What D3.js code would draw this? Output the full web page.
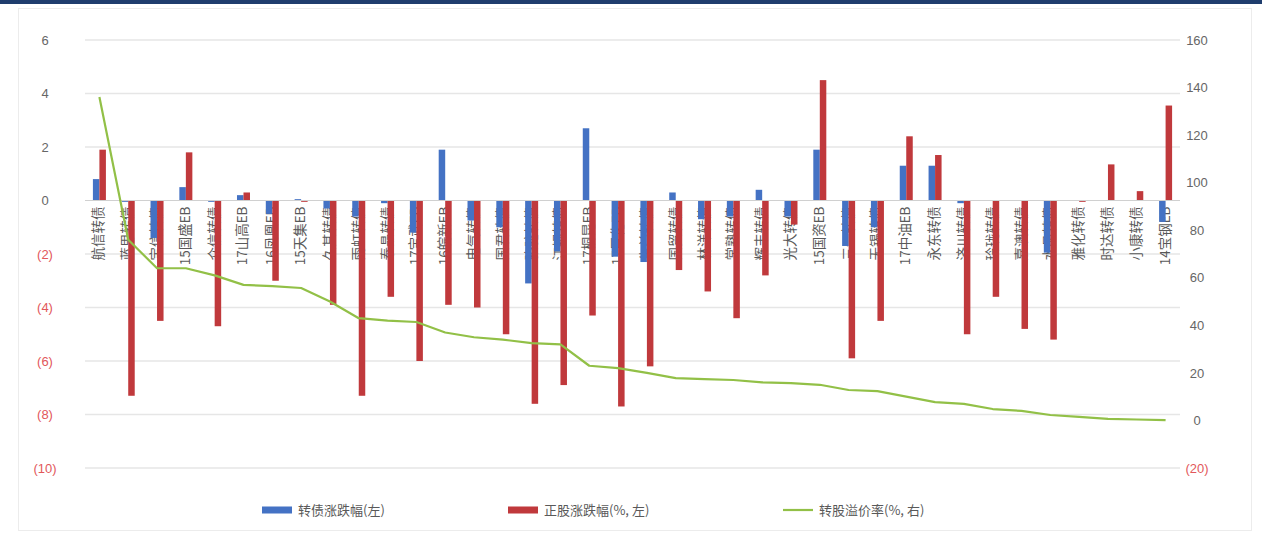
<!DOCTYPE html>
<html>
<head>
<meta charset="utf-8">
<script src="https://cdn.jsdelivr.net/npm/d3@7/dist/d3.min.js"></script>
<style>
  html, body { margin: 0; padding: 0; background: #ffffff; }
  svg { display: block; font-family: "Noto Sans CJK SC", "Noto Sans", sans-serif; }
</style>
</head>
<body>
<svg id="chart" width="1262" height="534"></svg>
<script>
// Bond names along the x axis
const categories = [
  "航信转债", "蓝思转债", "宝信转债", "15国盛EB", "众信转债", "17山高EB", "16凤凰EB", "15天集EB",
  "久其转债", "雨虹转债", "泰晶转债", "17宝武EB", "16皖新EB", "电气转债", "国君转债", "骆驼转债",
  "江银转债", "17桐昆EB", "17巨化EB", "生益转债", "国贸转债", "林洋转债", "常熟转债", "辉丰转债",
  "光大转债", "15国资EB", "三一转债", "无锡转债", "17中油EB", "永东转债", "济川转债", "玲珑转债",
  "嘉澳转债", "水晶转债", "雅化转债", "时达转债", "小康转债", "14宝钢EB"
];

// Convertible bond change (left axis)
const bondChange = [
  0.8, -0.05, -1.4, 0.5, -0.05, 0.2, -0.5, 0.05,
  -0.3, -0.6, -0.1, -1.2, 1.9, -0.75, -1.0, -3.1,
  -1.9, 2.7, -2.1, -2.3, 0.3, -0.7, -0.6, 0.4,
  -0.6, 1.9, -1.7, -1.0, 1.3, 1.3, -0.1, 0.0,
  0.0, -1.95, 0.0, 0.0, 0.0, -0.8
];

// Underlying stock change, % (left axis)
const stockChange = [
  1.9, -7.3, -4.5, 1.8, -4.7, 0.3, -3.0, -0.05,
  -3.9, -7.3, -3.6, -6.0, -3.9, -4.0, -5.0, -7.6,
  -6.9, -4.3, -7.7, -6.2, -2.6, -3.4, -4.4, -2.8,
  -0.9, 4.5, -5.9, -4.5, 2.4, 1.7, -5.0, -3.6,
  -4.8, -5.2, -0.05, 1.35, 0.35, 3.55
];

// Conversion premium, % (right axis)
const premium = [
  136, 76, 64, 64, 61, 57, 56.5, 55.7,
  50, 43, 42, 41.4, 37, 35, 34, 32.5,
  32, 23, 22, 20, 17.8, 17.4, 17, 16,
  15.7, 15, 12.8, 12.3, 10, 7.7, 7, 4.8,
  4, 2.3, 1.5, 0.7, 0.4, 0.1
];

const leftTicks = [6, 4, 2, 0, -2, -4, -6, -8, -10];
const rightTicks = [160, 140, 120, 100, 80, 60, 40, 20, 0, -20];

const seriesNames = ["转债涨跌幅(左)", "正股涨跌幅(%, 左)", "转股溢价率(%, 右)"];
const colors = { bond: "#4472c4", stock: "#c0393c", premium: "#92c047" };

const svg = d3.select("#chart");
const W = 1262, H = 534;
const plot = { left: 85, right: 1180, top: 40, bottom: 468 };

// outer frame and header rule
svg.append("rect").attr("x", 18.5).attr("y", 8.5).attr("width", 1233).attr("height", 522)
  .attr("fill", "none").attr("stroke", "#ececec").attr("stroke-width", 1);
svg.append("rect").attr("x", 0).attr("y", 0).attr("width", W).attr("height", 4).attr("fill", "#1f3d6d");

const x = d3.scaleBand().domain(categories).range([plot.left, plot.right]).padding(0);
const xSub = d3.scaleBand().domain(["bond", "stock"]).range([-6.5, 6.5]).padding(0);
const yL = d3.scaleLinear().domain([-10, 6]).range([plot.bottom, plot.top]);
const yR = d3.scaleLinear().domain([-20, 160]).range([plot.bottom, plot.top]);

const fmt = v => v < 0 ? "(" + Math.abs(v) + ")" : String(v);

// horizontal gridlines
svg.append("g").selectAll("line").data(leftTicks.filter(t => t !== 0)).join("line")
  .attr("x1", plot.left).attr("x2", plot.right)
  .attr("y1", d => yL(d)).attr("y2", d => yL(d))
  .attr("stroke", "#e6e6e6").attr("stroke-width", 1.5);

// left axis
const axL = svg.append("g").attr("transform", `translate(${plot.left - 28},0)`)
  .call(d3.axisLeft(yL).tickValues(leftTicks).tickSize(0).tickPadding(0).tickFormat(fmt));
axL.select(".domain").remove();
axL.selectAll("text")
  .attr("text-anchor", "middle").attr("dx", -12)
  .attr("font-size", 13)
  .attr("font-family", "Liberation Sans, Arial, sans-serif")
  .attr("fill", d => d < 0 ? "#e2575b" : "#666666");

// right axis
const axR = svg.append("g").attr("transform", `translate(${plot.right + 5},0)`)
  .call(d3.axisRight(yR).tickValues(rightTicks).tickSize(0).tickPadding(0).tickFormat(fmt));
axR.select(".domain").remove();
axR.selectAll("text")
  .attr("text-anchor", "middle").attr("dx", 12)
  .attr("font-size", 13)
  .attr("font-family", "Liberation Sans, Arial, sans-serif")
  .attr("fill", d => d < 0 ? "#e2575b" : "#666666");

// category labels, vertical, hung just below the zero line (drawn beneath the bars)
svg.append("g").selectAll("text").data(categories).join("text")
  .attr("transform", d => `translate(${x(d) + x.bandwidth() / 2 + 4},${yL(0) + 6}) rotate(-90)`)
  .attr("text-anchor", "end")
  .attr("font-size", 13.5)
  .attr("fill", "#595959")
  .text(d => d);

// bars
const groups = svg.append("g").selectAll("g").data(categories).join("g")
  .attr("transform", d => `translate(${x(d) + x.bandwidth() / 2},0)`);

groups.append("rect")
  .attr("x", xSub("bond")).attr("width", xSub.bandwidth())
  .attr("y", (d, i) => yL(Math.max(0, bondChange[i])))
  .attr("height", (d, i) => Math.abs(yL(bondChange[i]) - yL(0)))
  .attr("fill", colors.bond);

groups.append("rect")
  .attr("x", xSub("stock")).attr("width", xSub.bandwidth())
  .attr("y", (d, i) => yL(Math.max(0, stockChange[i])))
  .attr("height", (d, i) => Math.abs(yL(stockChange[i]) - yL(0)))
  .attr("fill", colors.stock);

// zero line
svg.append("line").attr("x1", plot.left).attr("x2", plot.right)
  .attr("y1", yL(0)).attr("y2", yL(0)).attr("stroke", "#d0d0d0").attr("stroke-width", 1);

// premium line
const line = d3.line()
  .x((d, i) => x(categories[i]) + x.bandwidth() / 2)
  .y(d => yR(d));
svg.append("path").datum(premium)
  .attr("d", line).attr("fill", "none")
  .attr("stroke", colors.premium).attr("stroke-width", 2.2).attr("stroke-linejoin", "round");

// legend
const legend = svg.append("g").attr("font-size", 13).attr("fill", "#595959");
const legendItems = [
  { name: seriesNames[0], color: colors.bond, type: "bar", x: 262 },
  { name: seriesNames[1], color: colors.stock, type: "bar", x: 508 },
  { name: seriesNames[2], color: colors.premium, type: "line", x: 783 }
];
const li = legend.selectAll("g").data(legendItems).join("g")
  .attr("transform", d => `translate(${d.x},510)`);
li.append("rect")
  .attr("x", 0).attr("width", 30)
  .attr("y", d => d.type === "bar" ? -3.5 : -1.1)
  .attr("height", d => d.type === "bar" ? 7 : 2.2)
  .attr("fill", d => d.color);
li.append("text").attr("x", 36).attr("y", 0).attr("dy", "0.35em")
  .attr("fill", "#595959").text(d => d.name);
</script>
</body>
</html>
